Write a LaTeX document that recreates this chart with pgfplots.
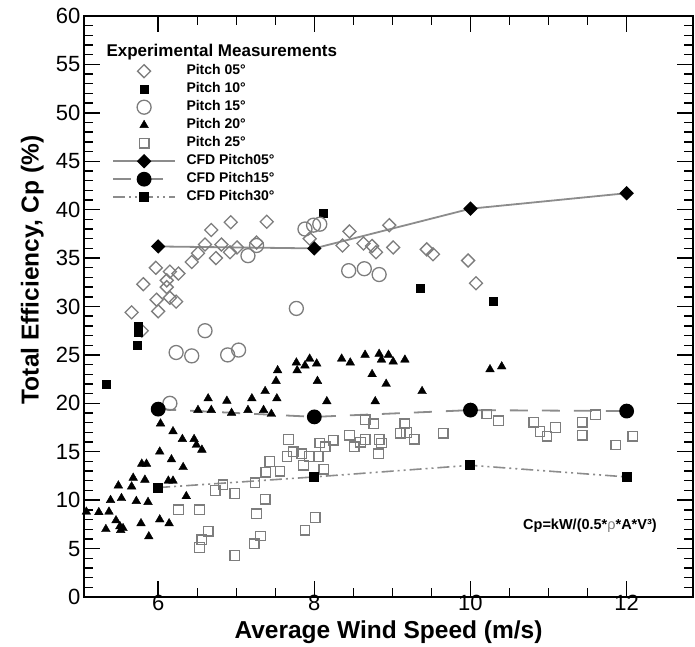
\documentclass[border=0pt]{standalone}
\usepackage{fontspec}
\setmainfont{Liberation Sans}
\usepackage{graphicx}
\usepackage{pgfplots}
\pgfplotsset{compat=1.18}
\definecolor{mkgray}{RGB}{125,125,125}
\definecolor{lngray}{RGB}{140,140,140}

\begin{document}
\begin{tikzpicture}
\begin{axis}[
  name=ax,
  scale only axis,
  width=609pt, height=581pt,
  xmin=5.05, xmax=12.85, ymin=0, ymax=60,
  xtick={6,8,10,12}, ytick={0,5,...,60},
  minor x tick num=3, minor y tick num=4,
  tick align=inside,
  major tick length=16pt, minor tick length=9pt,
  every tick/.style={black, line width=1.4pt},
  axis line style={line width=2.2pt},
  tick label style={font=\fontsize{22}{24}\selectfont},
  xticklabel style={yshift=5pt},
  /pgf/number format/assume math mode=true,
  xlabel={Average Wind Speed (m/s)},
  ylabel={Total Efficiency, Cp (\%)},
  label style={font=\bfseries\fontsize{24.5}{28}\selectfont},
  xlabel style={at={(axis description cs:0.5,-0.034)}, anchor=north},
  ylabel style={at={(axis description cs:-0.085,0.563)}, anchor=center},
  legend style={at={(axis description cs:0,1)}, anchor=north west,
    xshift=25pt, yshift=-27pt, draw=none, fill=none,
    font=\bfseries\fontsize{14}{16}\selectfont, row sep=2pt, column sep=10pt,
    nodes={inner sep=0.5pt, text height=11pt, text depth=4pt}},
  legend cell align=left,
  legend image code/.code={\draw[mark repeat=2,mark phase=2] plot coordinates {(0pt,0pt) (31pt,0pt) (62pt,0pt)};},
]
\addlegendimage{empty legend}
\addlegendentry{\hspace{-80pt}\fontsize{17}{20}\selectfont Experimental Measurements}

% Pitch 05 (open diamonds)
\addplot[only marks, mark=square, mark size=4.6pt, mark options={rotate=45, draw=mkgray, line width=1.3pt, fill=none}] coordinates {
(5.66,29.4) (5.79,27.5) (5.81,32.3) (5.97,34.0) (5.98,30.7) (6.00,29.5) (6.11,32.7) (6.11,32.0)
(6.15,33.6) (6.15,30.9) (6.23,30.5) (6.26,33.4) (6.43,34.6) (6.51,35.5) (6.60,36.4) (6.68,37.9)
(6.74,35.0) (6.81,36.4) (6.92,35.6) (6.93,38.7) (7.01,36.1) (7.26,36.6) (7.39,38.75) (7.94,37.0)
(8.45,37.75) (8.36,36.3) (8.63,36.5) (8.74,36.25) (8.79,35.6) (8.96,38.4) (9.01,36.1) (9.44,35.9)
(9.52,35.4) (9.97,34.75) (10.07,32.4)};
\addlegendentry{Pitch 05°}

% Pitch 10 (filled squares)
\addplot[only marks, mark=square*, mark size=4pt, mark options={black}] coordinates {
(5.33,22.0) (5.74,28.0) (5.74,27.3) (5.73,26.0) (8.12,39.6) (9.36,31.9) (10.29,30.5)};
\addlegendentry{Pitch 10°}

% Pitch 15 (open circles)
\addplot[only marks, mark=o, mark size=7pt, mark options={draw=mkgray, line width=1.3pt}] coordinates {
(6.15,20.0) (6.23,25.25) (6.43,24.9) (6.60,27.5) (6.89,25.0) (7.03,25.5) (7.15,35.25) (7.26,36.3)
(7.77,29.8) (7.88,38.0) (7.99,38.4) (8.07,38.5) (8.44,33.7) (8.64,33.9) (8.83,33.3)};
\addlegendentry{Pitch 15°}

% Pitch 20 (filled triangles)
\addplot[only marks, mark=triangle*, mark size=5pt, mark options={black}] coordinates {
(5.08,8.8) (5.24,8.75) (5.37,8.8) (5.33,7.0) (5.46,7.9) (5.51,7.3) (5.55,7.1) (5.52,6.9)
(5.39,10.0) (5.53,10.2) (5.72,9.9) (5.87,9.8) (5.49,11.5) (5.66,11.4) (5.68,12.3) (5.83,12.1)
(5.79,13.75) (5.85,13.75) (5.78,7.6) (5.88,6.25) (6.02,8.0) (6.14,7.6) (6.13,12.0) (6.19,12.0)
(6.36,10.4) (6.02,15.0) (6.17,14.2) (6.32,13.4) (6.03,17.9) (6.19,17.1) (6.31,16.3) (6.46,16.3)
(6.49,15.7) (6.56,15.2) (6.51,19.3) (6.68,19.3) (6.64,20.5) (6.88,20.25) (6.94,19.0) (7.15,19.3)
(7.20,20.5) (7.35,19.3) (7.45,18.9) (7.37,21.25) (7.52,20.5) (7.51,22.3) (7.53,23.4) (7.77,24.2)
(7.78,23.4) (7.88,23.9) (7.94,24.6) (8.03,24.1) (8.04,22.3) (8.35,24.6) (8.46,24.2) (8.65,25.0)
(8.74,23.0) (8.83,25.1) (8.86,24.5) (8.95,25.0) (9.01,24.3) (9.16,24.5) (8.92,22.0) (9.38,21.25)
(8.16,20.2) (8.78,20.2) (10.25,23.5) (10.40,23.8)};
\addlegendentry{Pitch 20°}

% Pitch 25 (open squares)
\addplot[only marks, mark=square, mark size=4.8pt, mark options={draw=mkgray, line width=1.3pt}] coordinates {
(6.26,9.0) (6.53,9.0) (6.73,11.0) (6.83,11.6) (6.98,10.7) (7.24,11.8) (7.37,10.1) (7.26,8.6)
(7.38,12.9) (7.43,14.0) (7.56,13.0) (7.65,14.5) (7.67,16.25) (6.64,6.8) (6.56,5.9) (6.53,5.1)
(6.98,4.3) (7.23,5.5) (7.31,6.3) (7.73,15.0) (7.84,14.8) (7.94,14.5) (8.05,14.5) (7.86,13.6)
(8.12,13.2) (8.07,15.9) (8.14,15.5) (8.24,16.2) (8.45,16.7) (8.51,15.5) (8.59,16.0) (8.65,16.25)
(8.83,16.25) (8.86,15.9) (8.82,14.8) (8.65,18.3) (8.76,17.9) (9.16,17.9) (9.10,16.9) (9.18,17.0)
(9.28,16.3) (9.65,16.9) (8.01,8.2) (7.88,6.9) (10.21,18.9) (10.36,18.2) (10.81,18.05) (10.89,17.1)
(10.98,16.6) (11.09,17.5) (11.43,18.05) (11.43,16.7) (11.60,18.8) (11.86,15.7) (12.08,16.6)};
\addlegendentry{Pitch 25°}

% CFD lines
\addplot[lngray, line width=1.8pt, mark=square*, mark size=4.2pt, mark options={rotate=45, black, solid}] coordinates {
(6,36.2) (8,36.0) (10,40.1) (12,41.7)};
\addlegendentry{CFD Pitch05°}

\addplot[lngray, line width=1.8pt, dash pattern=on 18pt off 14pt, mark=*, mark size=6.5pt, mark options={black, solid}] coordinates {
(6,19.4) (8,18.6) (10,19.3) (12,19.2)};
\addlegendentry{CFD Pitch15°}

\addplot[lngray, line width=1.6pt, dash pattern=on 12pt off 4pt on 2pt off 4pt on 2pt off 4pt, mark=square*, mark size=4.2pt, mark options={black, solid}] coordinates {
(6,11.3) (8,12.4) (10,13.6) (12,12.4)};
\addlegendentry{CFD Pitch30°}

\node[font=\bfseries\fontsize{14.5}{16}\selectfont] at (axis cs:11.53,7.4) {Cp=kW/(0.5*{\mdseries\color{mkgray}ρ}*A*V³)};
\coordinate (sw) at (rel axis cs:0,0);
\coordinate (ne) at (rel axis cs:1,1);
\end{axis}
\path ([shift={(-84pt,-42pt)}]sw) rectangle ([shift={(2pt,16pt)}]ne);
\end{tikzpicture}
\end{document}
